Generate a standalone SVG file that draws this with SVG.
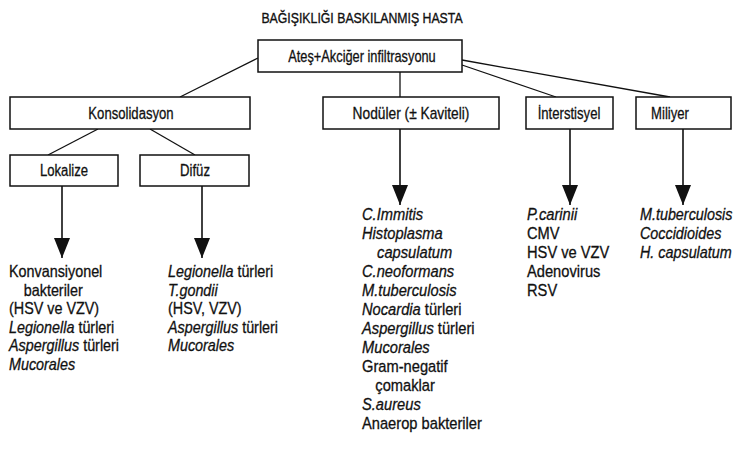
<svg xmlns="http://www.w3.org/2000/svg" width="749" height="450" viewBox="0 0 749 450">
  <defs>
    <marker id="arrow" viewBox="0 0 20 16" refX="20" refY="8" markerWidth="20" markerHeight="16" markerUnits="userSpaceOnUse" orient="auto">
      <path d="M0,0 L20,8 L0,16 Z" fill="#111"/>
    </marker>
  </defs>
  <style>
    .box { fill: #fff; stroke: #111; stroke-width: 1.5; }
    .lbl { font-family: "Liberation Sans", Arial, sans-serif; font-size: 16px; fill: #111; stroke: #111; stroke-width: 0.3; text-anchor: middle; }
    .title { font-family: "Liberation Sans", Arial, sans-serif; font-size: 15px; fill: #111; stroke: #111; stroke-width: 0.35; text-anchor: middle; }
    .list { font-family: "Liberation Sans", Arial, sans-serif; font-size: 16.5px; fill: #111; stroke: #111; stroke-width: 0.3; }
    .it { font-style: italic; }
    .edge { stroke: #111; stroke-width: 1.3; fill: none; }
    .down { stroke: #111; stroke-width: 1.6; fill: none; marker-end: url(#arrow); }
  </style>
  <rect width="749" height="450" fill="#fff"/>

  <!-- heading, narrowed to a condensed face -->
  <g transform="translate(362,0) scale(0.82,1)">
    <text class="title" x="0" y="23">BAĞIŞIKLIĞI BASKILANMIŞ HASTA</text>
  </g>

  <!-- connectors -->
  <g id="connectors">
    <line class="edge" x1="258" y1="58" x2="180" y2="97"/>
    <line class="edge" x1="400" y1="72" x2="400" y2="97"/>
    <line class="edge" x1="462" y1="65" x2="556" y2="97"/>
    <line class="edge" x1="462" y1="60" x2="670" y2="97"/>
    <line class="edge" x1="98" y1="129" x2="48" y2="155"/>
    <line class="edge" x1="150" y1="129" x2="195" y2="155"/>
    <line class="down" x1="62" y1="186" x2="62" y2="258"/>
    <line class="down" x1="202" y1="186" x2="202" y2="258"/>
    <line class="down" x1="400" y1="129" x2="400" y2="205"/>
    <line class="down" x1="570" y1="129" x2="570" y2="205"/>
    <line class="down" x1="683" y1="129" x2="683" y2="205"/>
  </g>

  <g id="root">
    <rect class="box" x="258" y="40" width="204" height="32"/>
    <text class="lbl" transform="translate(362,62) scale(0.8,1)">Ateş+Akciğer infiltrasyonu</text>
  </g>
  <g id="konsolidasyon">
    <rect class="box" x="10" y="97" width="240" height="32"/>
    <text class="lbl" transform="translate(131,119) scale(0.82,1)">Konsolidasyon</text>
  </g>
  <g id="noduler">
    <rect class="box" x="323" y="97" width="176" height="32"/>
    <text class="lbl" transform="translate(411,119) scale(0.86,1)">Nodüler (± Kaviteli)</text>
  </g>
  <g id="interstisyel">
    <rect class="box" x="526" y="97" width="87" height="32"/>
    <text class="lbl" transform="translate(569,119) scale(0.82,1)">İnterstisyel</text>
  </g>
  <g id="miliyer">
    <rect class="box" x="636" y="97" width="95" height="32"/>
    <text class="lbl" transform="translate(670,119) scale(0.82,1)">Miliyer</text>
  </g>
  <g id="lokalize">
    <rect class="box" x="10" y="155" width="108" height="31"/>
    <text class="lbl" transform="translate(64,176) scale(0.82,1)">Lokalize</text>
  </g>
  <g id="difuz">
    <rect class="box" x="140" y="155" width="109" height="31"/>
    <text class="lbl" transform="translate(195,176) scale(0.82,1)">Difüz</text>
  </g>

  <!-- result lists, condensed horizontally -->
  <g id="list-lokalize" transform="translate(9,0) scale(0.87,1)">
    <text class="list" x="0" y="277">Konvansiyonel</text>
    <text class="list" x="17" y="296">bakteriler</text>
    <text class="list" x="0" y="314">(HSV ve VZV)</text>
    <text class="list" x="0" y="333"><tspan class="it">Legionella</tspan> türleri</text>
    <text class="list" x="0" y="351"><tspan class="it">Aspergillus</tspan> türleri</text>
    <text class="list it" x="0" y="370">Mucorales</text>
  </g>
  <g id="list-difuz" transform="translate(168,0) scale(0.87,1)">
    <text class="list" x="0" y="277"><tspan class="it">Legionella</tspan> türleri</text>
    <text class="list it" x="0" y="296">T.gondii</text>
    <text class="list" x="0" y="314">(HSV, VZV)</text>
    <text class="list" x="0" y="333"><tspan class="it">Aspergillus</tspan> türleri</text>
    <text class="list it" x="0" y="351">Mucorales</text>
  </g>
  <g id="list-noduler" transform="translate(362,0) scale(0.89,1)">
    <text class="list it" x="0" y="220">C.Immitis</text>
    <text class="list it" x="0" y="239">Histoplasma</text>
    <text class="list it" x="17" y="258">capsulatum</text>
    <text class="list it" x="0" y="277">C.neoformans</text>
    <text class="list it" x="0" y="296">M.tuberculosis</text>
    <text class="list" x="0" y="315"><tspan class="it">Nocardia</tspan> türleri</text>
    <text class="list" x="0" y="334"><tspan class="it">Aspergillus</tspan> türleri</text>
    <text class="list it" x="0" y="353">Mucorales</text>
    <text class="list" x="0" y="372">Gram-negatif</text>
    <text class="list" x="15" y="391">çomaklar</text>
    <text class="list it" x="0" y="410">S.aureus</text>
    <text class="list" x="0" y="429">Anaerop bakteriler</text>
  </g>
  <g id="list-interstisyel" transform="translate(527,0) scale(0.89,1)">
    <text class="list it" x="0" y="220">P.carinii</text>
    <text class="list" x="0" y="239">CMV</text>
    <text class="list" x="0" y="258">HSV ve VZV</text>
    <text class="list" x="0" y="277">Adenovirus</text>
    <text class="list" x="0" y="296">RSV</text>
  </g>
  <g id="list-miliyer" transform="translate(640,0) scale(0.87,1)">
    <text class="list it" x="0" y="220">M.tuberculosis</text>
    <text class="list it" x="0" y="239">Coccidioides</text>
    <text class="list it" x="0" y="258">H. capsulatum</text>
  </g>
</svg>
